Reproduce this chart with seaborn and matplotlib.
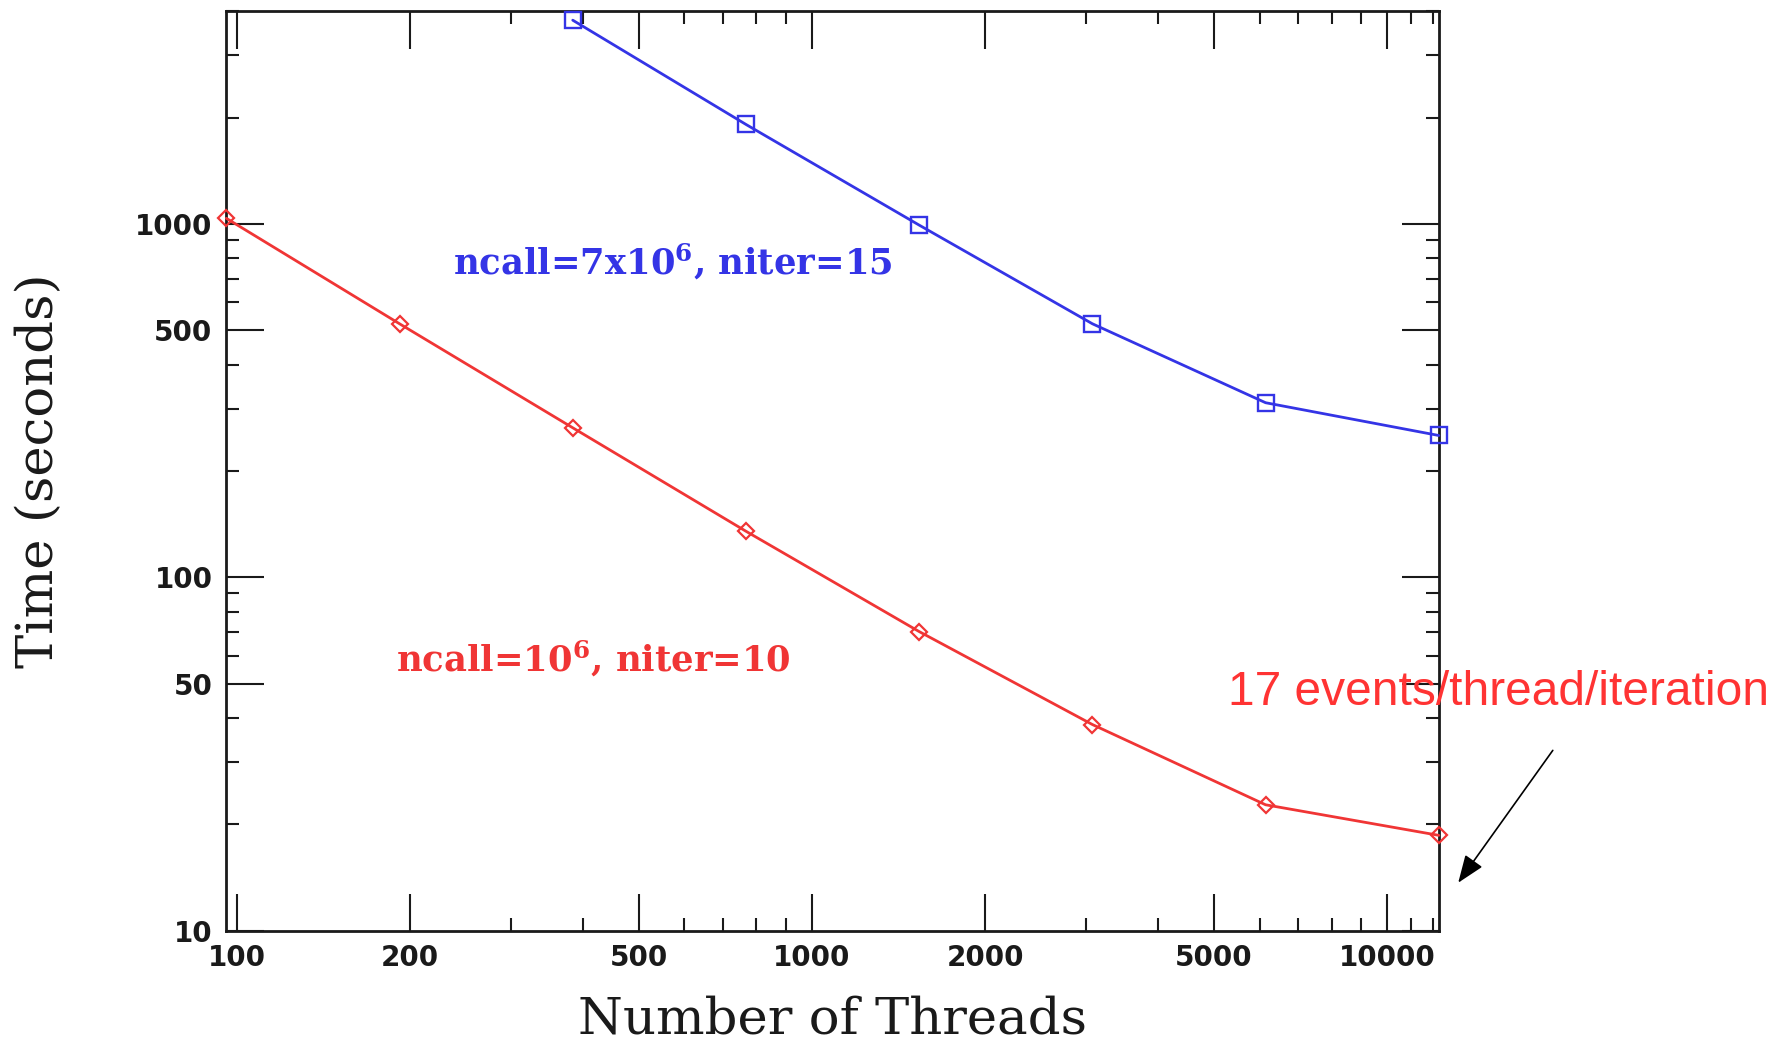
import matplotlib
matplotlib.use("Agg")
import matplotlib.pyplot as plt
import seaborn as sns
import pandas as pd
import numpy as np
from matplotlib.ticker import FixedLocator, NullFormatter

# ---- data ----
threads_small = [96, 192, 384, 768, 1536, 3072, 6144, 12288]
time_small = [1038, 522, 265, 135, 70.2, 38.3, 22.7, 18.6]        # ncall=10^6, niter=10
threads_large = [384, 768, 1536, 3072, 6144, 12288]
time_large = [3776, 1914, 993, 522, 312, 252]                      # ncall=7x10^6, niter=15

x_major = [100, 200, 500, 1000, 2000, 5000, 10000]
x_major_labels = ["100", "200", "500", "1000", "2000", "5000", "10000"]
y_major = [10, 50, 100, 500, 1000]
y_major_labels = ["10", "50", "100", "500", "1000"]

label_small = r"ncall=10$^{\mathbf{6}}$, niter=10"
label_large = r"ncall=7x10$^{\mathbf{6}}$, niter=15"
note_text = "17 events/thread/iteration"

RED = "#f03535"
BLUE = "#3434e6"
INK = "#1a1a1a"

sns.set_style("white")
plt.rcParams["font.family"] = ["DejaVu Serif"]
plt.rcParams["mathtext.fontset"] = "dejavuserif"

df_small = pd.DataFrame({"threads": threads_small, "time": time_small})
df_large = pd.DataFrame({"threads": threads_large, "time": time_large})

fig = plt.figure(figsize=(17.75, 10.41), dpi=100)
ax = fig.add_axes([0.1275, 0.1061, 0.6831, 0.8830])

sns.lineplot(data=df_small, x="threads", y="time", ax=ax, color=RED, lw=2.0,
             marker="D", markersize=8, markerfacecolor="none", markeredgecolor=RED,
             markeredgewidth=1.6, clip_on=False, zorder=3)
sns.lineplot(data=df_large, x="threads", y="time", ax=ax, color=BLUE, lw=2.0,
             marker="s", markersize=12, markerfacecolor="none", markeredgecolor=BLUE,
             markeredgewidth=1.7, clip_on=False, zorder=3)

ax.set_xscale("log")
ax.set_yscale("log")
ax.set_xlim(96, 12288)
ax.set_ylim(10, 4000)

# ticks
x_minor = [m * d for d in (100, 1000) for m in range(1, 10)] + [11000, 12000]
x_minor = [v for v in x_minor if v not in x_major and 96 <= v <= 12288]
y_minor = [m * d for d in (10, 100, 1000) for m in range(1, 10)]
y_minor = [v for v in y_minor if v not in y_major and 10 <= v <= 4000]

ax.xaxis.set_major_locator(FixedLocator(x_major))
ax.xaxis.set_minor_locator(FixedLocator(x_minor))
ax.yaxis.set_major_locator(FixedLocator(y_major))
ax.yaxis.set_minor_locator(FixedLocator(y_minor))
ax.set_xticklabels(x_major_labels)
ax.set_yticklabels(y_major_labels)
ax.xaxis.set_minor_formatter(NullFormatter())
ax.yaxis.set_minor_formatter(NullFormatter())

ax.tick_params(which="both", direction="in", top=True, right=True, bottom=True,
               left=True, color=INK)
ax.tick_params(which="major", length=27, width=1.5, labelsize=20, pad=10,
               labelcolor=INK)
ax.tick_params(which="minor", length=9.5, width=1.5)
for lab in ax.get_xticklabels() + ax.get_yticklabels():
    lab.set_family("DejaVu Sans")
    lab.set_fontweight("bold")

for sp in ax.spines.values():
    sp.set_linewidth(2.0)
    sp.set_color(INK)

ax.set_xlabel("Number of Threads", fontsize=37, color=INK)
ax.set_ylabel("Time (seconds)", fontsize=37, color=INK)
ax.xaxis.set_label_coords(0.5, -0.070)
ax.yaxis.set_label_coords(-0.134, 0.5)

ax.text(0.187, 0.728, label_large, transform=ax.transAxes, color=BLUE,
        fontsize=25.5, fontweight="bold", va="center", ha="left")
ax.text(0.140, 0.296, label_small, transform=ax.transAxes, color=RED,
        fontsize=25.5, fontweight="bold", va="center", ha="left")

ax.text(0.826, 0.259, note_text, transform=ax.transAxes, color="#ff3333",
        fontsize=34.5, family=["Liberation Sans Narrow", "Liberation Sans"],
        va="center", ha="left", clip_on=False)
ax.annotate("", xy=(1.016, 0.052), xycoords=ax.transAxes,
            xytext=(1.094, 0.196), textcoords=ax.transAxes,
            arrowprops=dict(arrowstyle="-|>,head_length=1.7,head_width=0.65",
                            color="black", lw=1.2, shrinkA=0, shrinkB=0),
            annotation_clip=False)

fig.savefig("out.png", dpi=100)
